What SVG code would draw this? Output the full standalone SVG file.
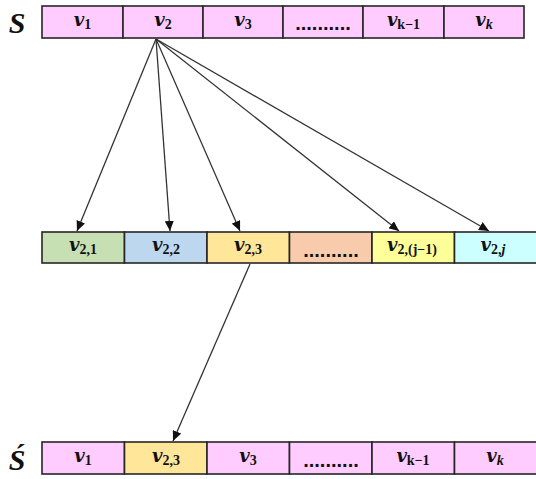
<svg xmlns="http://www.w3.org/2000/svg" width="536" height="479" viewBox="0 0 536 479">
  <style>
    .cell { stroke: #262626; stroke-width: 1.6; }
    .pink { fill: #FFCCFF; }
    .green { fill: #C6E0B4; }
    .blue { fill: #BDD7EE; }
    .gold { fill: #FFE699; }
    .salmon { fill: #F8CBAD; }
    .yellow { fill: #FFFF99; }
    .cyan { fill: #CCFFFF; }
    .lbl { font-family: "DejaVu Serif", "Liberation Serif", serif; font-style: italic; font-weight: bold; font-size: 18px; fill: #111; text-anchor: middle; }
    .sub { font-family: "Liberation Serif", serif; font-style: normal; font-size: 14px; }
    .subi { font-family: "Liberation Serif", serif; font-style: italic; font-size: 14px; }
    .dots { font-family: "Liberation Sans", Arial, sans-serif; font-weight: bold; font-size: 20px; fill: #111; text-anchor: middle; }
    .seq { font-family: "Liberation Serif", "DejaVu Serif", serif; font-style: italic; font-weight: bold; font-size: 30px; fill: #111; text-anchor: middle; }
    .edge { stroke: #333; stroke-width: 1.3; fill: none; marker-end: url(#head); }
  </style>
  <defs>
    <marker id="head" markerUnits="userSpaceOnUse" markerWidth="11" markerHeight="9" refX="10" refY="4.5" orient="auto">
      <path d="M0,0 L10,4.5 L0,9 z" fill="#111"/>
    </marker>
  </defs>

  <rect width="536" height="479" fill="#fff"/>

  <!-- sequence labels -->
  <text class="seq" x="17" y="33">S</text>
  <text class="seq" x="17" y="470">Ś</text>

  <!-- sequence S -->
  <g id="s-v1"><rect class="cell pink" x="42" y="6" width="81" height="32"/><text class="lbl" x="82.5" y="26">v<tspan class="sub" dy="3">1</tspan></text></g>
  <g id="s-v2"><rect class="cell pink" x="123" y="6" width="80" height="32"/><text class="lbl" x="163" y="26">v<tspan class="sub" dy="3">2</tspan></text></g>
  <g id="s-v3"><rect class="cell pink" x="203" y="6" width="80" height="32"/><text class="lbl" x="243" y="26">v<tspan class="sub" dy="3">3</tspan></text></g>
  <g id="s-dots"><rect class="cell pink" x="283" y="6" width="80" height="32"/><text class="dots" x="323" y="30">..........</text></g>
  <g id="s-vk1"><rect class="cell pink" x="363" y="6" width="81" height="32"/><text class="lbl" x="403.5" y="26">v<tspan class="sub" dy="3">k−1</tspan></text></g>
  <g id="s-vk"><rect class="cell pink" x="444" y="6" width="80" height="32"/><text class="lbl" x="484" y="26">v<tspan class="subi" dy="3">k</tspan></text></g>

  <!-- sub-items of v2 -->
  <g id="v21"><rect class="cell green" x="42" y="232" width="82.5" height="31"/><text class="lbl" x="83" y="251">v<tspan class="sub" dy="3">2,1</tspan></text></g>
  <g id="v22"><rect class="cell blue" x="124.5" y="232" width="82.5" height="31"/><text class="lbl" x="166" y="251">v<tspan class="sub" dy="3">2,2</tspan></text></g>
  <g id="v23"><rect class="cell gold" x="207" y="232" width="82.5" height="31"/><text class="lbl" x="248" y="251">v<tspan class="sub" dy="3">2,3</tspan></text></g>
  <g id="v2-dots"><rect class="cell salmon" x="289.5" y="232" width="82.5" height="31"/><text class="dots" x="331" y="257">..........</text></g>
  <g id="v2j1"><rect class="cell yellow" x="372" y="232" width="82.5" height="31"/><text class="lbl" x="412" y="251">v<tspan class="sub" dy="3">2,(j−1)</tspan></text></g>
  <g id="v2j"><rect class="cell cyan" x="454.5" y="232" width="83" height="31"/><text class="lbl" x="493" y="251">v<tspan class="sub" dy="3">2,</tspan><tspan class="subi">j</tspan></text></g>

  <!-- sequence S' -->
  <g id="t-v1"><rect class="cell pink" x="42" y="442" width="82.5" height="32"/><text class="lbl" x="83" y="462">v<tspan class="sub" dy="3">1</tspan></text></g>
  <g id="t-v23"><rect class="cell gold" x="124.5" y="442" width="82.5" height="32"/><text class="lbl" x="166" y="462">v<tspan class="sub" dy="3">2,3</tspan></text></g>
  <g id="t-v3"><rect class="cell pink" x="207" y="442" width="82.5" height="32"/><text class="lbl" x="248" y="462">v<tspan class="sub" dy="3">3</tspan></text></g>
  <g id="t-dots"><rect class="cell pink" x="289.5" y="442" width="82.5" height="32"/><text class="dots" x="331" y="467">..........</text></g>
  <g id="t-vk1"><rect class="cell pink" x="372" y="442" width="82.5" height="32"/><text class="lbl" x="413" y="462">v<tspan class="sub" dy="3">k−1</tspan></text></g>
  <g id="t-vk"><rect class="cell pink" x="454.5" y="442" width="83" height="32"/><text class="lbl" x="495" y="462">v<tspan class="subi" dy="3">k</tspan></text></g>

  <!-- connectors -->
  <g id="connectors">
    <path class="edge" d="M156,39 L77,231"/>
    <path class="edge" d="M156,39 L170,231"/>
    <path class="edge" d="M156,39 L240,231"/>
    <path class="edge" d="M156,39 L399,231"/>
    <path class="edge" d="M156,39 L489,231"/>
    <path class="edge" d="M250,264 L173,441"/>
  </g>
</svg>
